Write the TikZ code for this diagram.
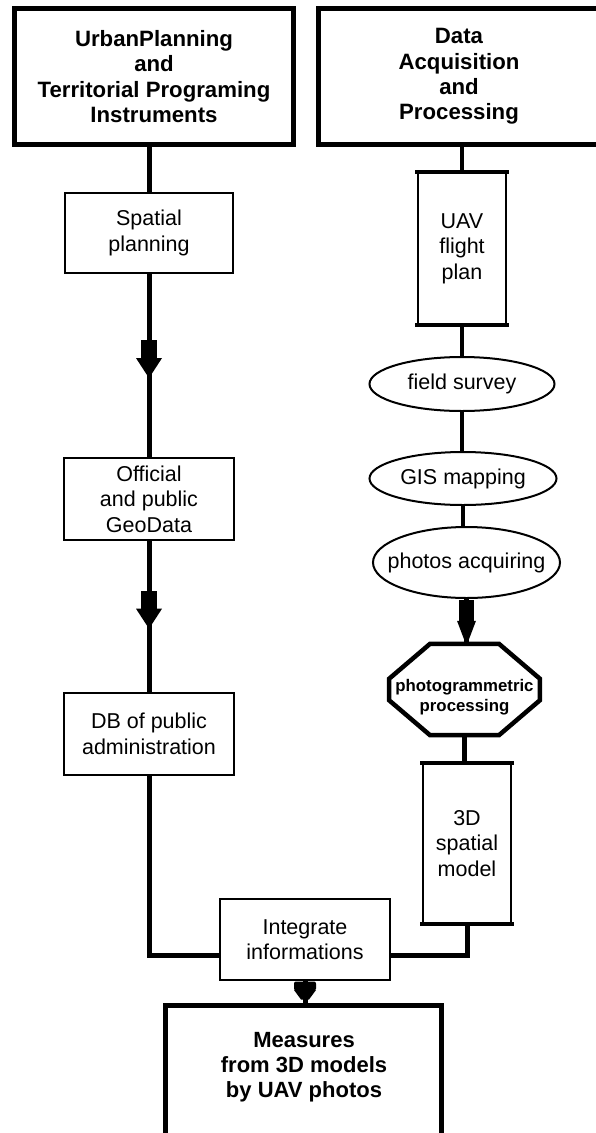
\documentclass[tikz,border=0pt]{standalone}
\usepackage{fontspec}
\setmainfont{Liberation Sans}
\usetikzlibrary{decorations.markings,shapes.geometric,calc}
\tikzset{
  titlebox/.style={draw, line width=5pt, align=center, inner sep=0pt,
    font=\bfseries\fontsize{22.2}{25.3}\selectfont},
  thinbox/.style={draw, line width=1.6pt, fill=white, align=center, inner sep=0pt,
    font=\fontsize{21.5}{25.5}\selectfont},
  ellbox/.style={draw, ellipse, line width=2pt, inner sep=0pt,
    font=\fontsize{21.5}{25}\selectfont},
  thickedge/.style={line width=4.5pt},
  mainline/.style={line width=5pt},
  sideline/.style={line width=4.5pt},
  linkline/.style={line width=3.5pt},
  midarrow/.style={postaction={decorate, decoration={markings,
    mark=at position #1 with {\fill (-19,-8) rectangle (-1,8);
      \fill (-1,-13) -- (19,0) -- (-1,13) -- cycle;}}}},
  endarrowA/.style={postaction={decorate, decoration={markings,
    mark=at position 1 with {\fill (-44,-7.5) rectangle (-23,7.5);
      \fill (-23,-9.5) -- (-2,-1.5) -- (-2,1.5) -- (-23,9.5) -- cycle;}}}},
  endarrowB/.style={postaction={decorate, decoration={markings,
    mark=at position 1 with {\fill[rounded corners=2pt] (-21,-11) rectangle (-12,11);
      \fill (-12.5,-11) -- (-3,-4) -- (-3,4) -- (-12.5,11) -- cycle;}}}},
}
\begin{document}
\begin{tikzpicture}[x=1pt,y=-1pt]
\useasboundingbox (0,0) rectangle (595,1133);
\fill[white] (0,0) rectangle (595,1133);

% title boxes
\node[titlebox, minimum width=279pt, minimum height=136pt] (tl) at (154,76.5)
  {UrbanPlanning\\and\\Territorial Programing\\Instruments};
\node[titlebox, minimum width=281pt, minimum height=136pt, text width=150pt] (tr) at (459,76.5)
  {Data\\Acquisition\\and\\Processing};

% left column
\node[thinbox, minimum width=168pt, minimum height=80pt] (sp) at (149,233) {Spatial\\planning};
\node[thinbox, minimum width=170pt, minimum height=82pt] (og) at (149,499) {Official\\and public\\GeoData};
\node[thinbox, minimum width=170pt, minimum height=82pt] (db) at (149,734) {DB of public\\administration};

% right column
\node[thinbox, minimum width=88pt, minimum height=151pt] (uav) at (462,248.5) {UAV\\flight\\plan};
\draw[thickedge] ([xshift=-2pt]uav.north west) -- ([xshift=2pt]uav.north east);
\draw[thickedge] ([xshift=-2pt]uav.south west) -- ([xshift=2pt]uav.south east);

\node[ellbox, minimum width=185pt, minimum height=54pt] (fs) at (462,384) {\makebox[0pt]{field survey}};
\node[ellbox, minimum width=187pt, minimum height=53pt] (gis) at (463,478.5) {\makebox[0pt]{GIS mapping}};
\node[ellbox, minimum width=187pt, minimum height=71pt] (pa) at (466.5,562.5) {\makebox[0pt]{photos acquiring}};

\node[minimum width=150.5pt, minimum height=91pt, inner sep=0pt] (oct) at (464.5,689.5) {};
\draw[line width=4.5pt, line join=miter]
  ($(oct.north west)+(41,0)$) -- ($(oct.north east)+(-41,0)$) -- ($(oct.north east)+(0,35)$)
  -- ($(oct.south east)+(0,-35)$) -- ($(oct.south east)+(-41,0)$) -- ($(oct.south west)+(41,0)$)
  -- ($(oct.south west)+(0,-35)$) -- ($(oct.north west)+(0,35)$) -- cycle;
\node[align=center, inner sep=0pt, font=\bfseries\fontsize{16.8}{20}\selectfont] (octt) at (464.5,697)
  {photogrammetric\\processing};

\node[thinbox, minimum width=88pt, minimum height=159pt] (m3d) at (467,843.5) {3D\\spatial\\model};
\draw[thickedge] ([xshift=-2pt]m3d.north west) -- ([xshift=2pt]m3d.north east);
\draw[thickedge] ([xshift=-2pt]m3d.south west) -- ([xshift=2pt]m3d.south east);

% bottom
\node[thinbox, minimum width=170pt, minimum height=81pt] (ii) at (305,939.5) {Integrate\\informations};
\node[draw, line width=5pt, minimum width=276pt, minimum height=300pt, anchor=north, inner sep=0pt] (msbox) at (303,1002.5) {};
\node[align=center, inner sep=0pt, font=\bfseries\fontsize{22}{25}\selectfont] (ms) at (304,1067)
  {Measures\\from 3D models\\by UAV photos};

% connectors left
\draw[mainline] (tl.south -| sp.north) -- (sp.north);
\draw[mainline, midarrow=0.465] (sp.south) -- (og.north);
\draw[mainline, midarrow=0.455] (og.south) -- (db.north);
\coordinate (jl) at ($(ii.west)+(0,16)$);
\coordinate (jr) at ($(ii.east)+(0,16)$);
\draw[mainline] (db.south) -- (db.south |- jl) -- (jl);
\draw[mainline] (m3d.south) -- (m3d.south |- jr) -- (jr);

% connectors right
\draw[sideline] (tr.south -| uav.north) -- (uav.north);
\draw[linkline] (uav.south) -- (uav.south |- fs.north);
\draw[linkline] (fs.south) -- (fs.south |- gis.north);
\draw[linkline] (gis.south) -- (gis.south |- pa.north);
\draw[sideline, endarrowA] (pa.south) -- (pa.south |- oct.north);
\draw[sideline] (oct.south) -- (oct.south |- m3d.north);
\draw[mainline, endarrowB] (ii.south) -- (ii.south |- msbox.north);
\end{tikzpicture}
\end{document}
